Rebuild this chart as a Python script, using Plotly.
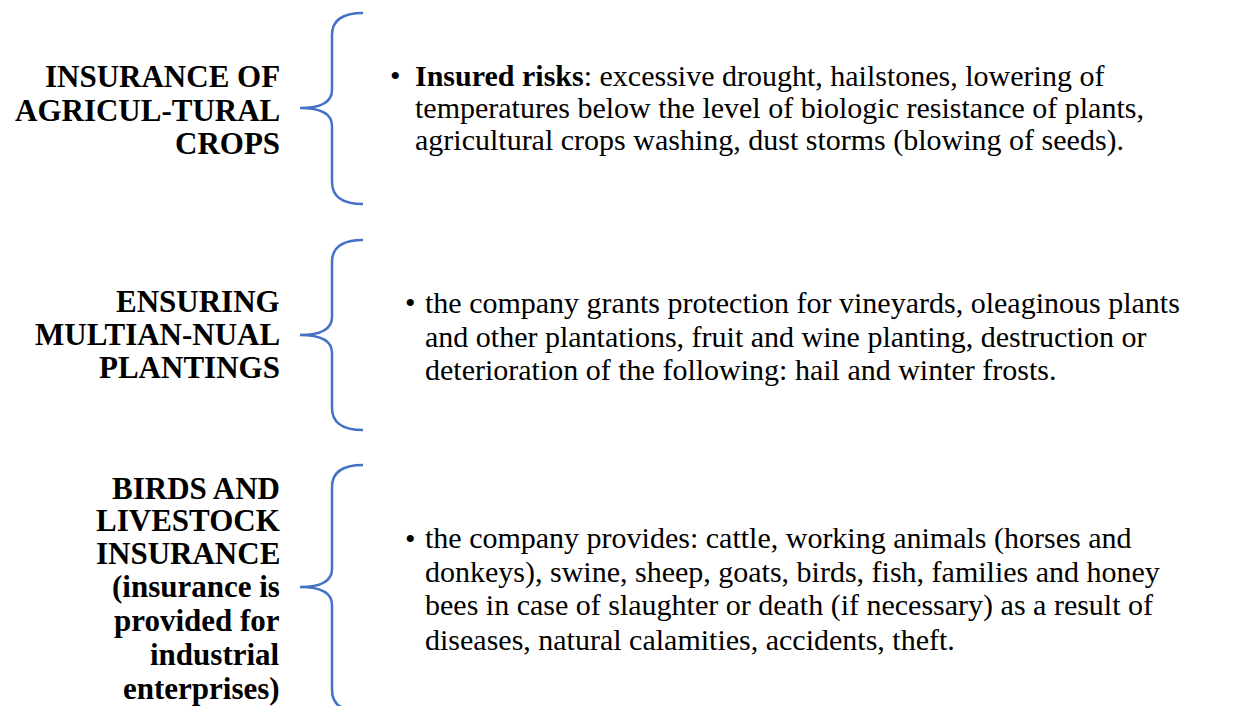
import plotly.graph_objects as go

# Content
left_labels = [
    ["INSURANCE OF", "AGRICUL-TURAL", "CROPS"],
    ["ENSURING", "MULTIAN-NUAL", "PLANTINGS"],
    ["BIRDS AND", "LIVESTOCK", "INSURANCE", "(insurance is", "provided for", "industrial", "enterprises)"],
]
right_texts = [
    ["<b>Insured risks</b>: excessive drought, hailstones, lowering of",
     "temperatures below the level of biologic resistance of plants,",
     "agricultural crops washing, dust storms (blowing of seeds)."],
    ["the company grants protection for vineyards, oleaginous plants",
     "and other plantations, fruit and wine planting, destruction or",
     "deterioration of the following: hail and winter frosts."],
    ["the company provides: cattle, working animals (horses and",
     "donkeys), swine, sheep, goats, birds, fish, families and honey",
     "bees in case of slaughter or death (if necessary) as a result of",
     "diseases, natural calamities, accidents, theft."],
]

# Layout parameters (pixel positions in the page)
W, H = 1236, 706
PAD = 8  # default page body margin
left_line_y = [[76, 110, 143], [301, 334, 367], [488, 520, 553, 586, 620, 654, 688]]
right_line_y = [[75, 107, 140], [302, 336, 369], [538, 572, 605, 639]]
bullet_x = [395, 410, 410]
text_x = [413, 423, 423]
braces = [(13, 108, 204), (240, 335, 430), (465, 587, 712)]

FONT = "Liberation Serif, Times New Roman, serif"
BLUE = "#4472C4"

fig = go.Figure()
annotations = []
for lines, ys in zip(left_labels, left_line_y):
    for t, y in zip(lines, ys):
        annotations.append(dict(x=282, y=y, text=f"<b>{t}</b>", xanchor="right", yanchor="middle",
                                showarrow=False, font=dict(family=FONT, size=31, color="black")))
for i, (lines, ys) in enumerate(zip(right_texts, right_line_y)):
    annotations.append(dict(x=bullet_x[i], y=ys[0], text="•", xanchor="center", yanchor="middle",
                            showarrow=False, font=dict(family=FONT, size=30, color="black")))
    for t, y in zip(lines, ys):
        annotations.append(dict(x=text_x[i], y=y, text=t, xanchor="left", yanchor="middle",
                                showarrow=False, font=dict(family=FONT, size=30, color="black")))

shapes = []
xt, xv, xe = 300, 332, 363
for (y0, ym, y1) in braces:
    p = (f"M {xe},{y0} Q {xv},{y0} {xv},{y0+22} L {xv},{ym-18} "
         f"Q {xv},{ym} {xt},{ym} Q {xv},{ym} {xv},{ym+18} "
         f"L {xv},{y1-22} Q {xv},{y1} {xe},{y1}")
    shapes.append(dict(type="path", path=p, xref="x", yref="y",
                       line=dict(color=BLUE, width=2.5)))

fig.update_layout(
    width=W - PAD, height=H - PAD, margin=dict(l=0, r=0, t=0, b=0),
    paper_bgcolor="white", plot_bgcolor="white",
    xaxis=dict(range=[PAD, W], visible=False, fixedrange=True),
    yaxis=dict(range=[H, PAD], visible=False, fixedrange=True),
    annotations=annotations, shapes=shapes, showlegend=False,
)
fig.write_html("out.html", config={"displayModeBar": False})
